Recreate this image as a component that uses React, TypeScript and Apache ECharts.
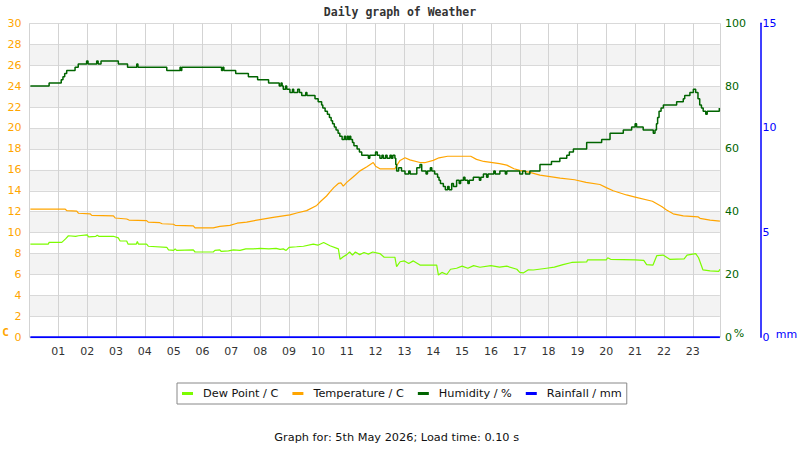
import React, { useEffect, useRef } from 'react';
import * as echarts from 'echarts';

const seriesNames = ['Dew Point / C', 'Temperature / C', 'Humidity / %', 'Rainfall / mm'];
const seriesColors = ['#7CFC00', '#FFA500', '#006400', '#0000FF'];

const titleText = 'Daily graph of Weather';
const footerText = 'Graph for: 5th May 2026; Load time: 0.10 s';

// hour of day, value
const dewPoint: [number, number][] = [
  [0.03, 8.9], [0.65, 8.9], [0.68, 9.07], [1.12, 9.07], [1.25, 9.4], [1.35, 9.7], [1.6, 9.65], [1.7, 9.7],
  [2.0, 9.78], [2.05, 9.6], [2.3, 9.65], [2.35, 9.75], [2.4, 9.65], [2.91, 9.65], [3.08, 9.5], [3.14, 9.2],
  [3.37, 9.2], [3.42, 8.9], [3.7, 8.9], [3.74, 9.15], [3.78, 8.9], [4.06, 8.9], [4.12, 8.7], [4.76, 8.6],
  [4.82, 8.35], [5.0, 8.3], [5.05, 8.45], [5.1, 8.3], [5.68, 8.35], [5.74, 8.15], [6.37, 8.15], [6.43, 8.3],
  [6.6, 8.35], [6.65, 8.2], [6.9, 8.25], [7.07, 8.35], [7.3, 8.3], [7.5, 8.45], [7.76, 8.45], [8.0, 8.5],
  [8.3, 8.45], [8.55, 8.5], [8.69, 8.4], [8.8, 8.45], [8.9, 8.3], [9.0, 8.6], [9.26, 8.65], [9.5, 8.7],
  [9.84, 8.9], [10.0, 8.8], [10.2, 9.05], [10.42, 8.75], [10.71, 8.45], [10.77, 7.45], [10.88, 7.7],
  [11.0, 7.9], [11.1, 8.15], [11.2, 7.85], [11.3, 8.15], [11.45, 7.9], [11.6, 8.1], [11.75, 7.95],
  [11.9, 8.15], [12.15, 8.0], [12.3, 7.65], [12.67, 7.65], [12.73, 6.75], [12.85, 7.22], [13.0, 7.3],
  [13.15, 7.05], [13.31, 7.3], [13.54, 6.9], [14.12, 6.9], [14.18, 5.95], [14.3, 6.2], [14.47, 6.0],
  [14.6, 6.5], [14.81, 6.6], [15.0, 6.8], [15.2, 6.6], [15.4, 6.85], [15.62, 6.69], [16.0, 6.85],
  [16.3, 6.7], [16.55, 6.8], [16.9, 6.5], [17.0, 6.2], [17.12, 6.15], [17.3, 6.45], [17.47, 6.43],
  [17.93, 6.6], [18.2, 6.7], [18.5, 6.95], [18.8, 7.15], [19.32, 7.2], [19.35, 7.39], [20.0, 7.4],
  [20.05, 7.6], [20.15, 7.45], [21.0, 7.4], [21.3, 7.35], [21.4, 6.95], [21.62, 6.9], [21.75, 7.8],
  [21.97, 7.86], [22.2, 7.45], [22.7, 7.5], [22.8, 7.85], [23.1, 8.0], [23.2, 7.6], [23.35, 6.45],
  [23.6, 6.35], [23.9, 6.3], [23.94, 6.5],
];

const temperature: [number, number][] = [
  [0.03, 12.25], [1.23, 12.25], [1.3, 12.1], [1.64, 12.05], [1.7, 11.85], [2.1, 11.8], [2.16, 11.65],
  [2.91, 11.6], [2.97, 11.4], [3.37, 11.3], [3.45, 11.2], [4.06, 11.15], [4.12, 11.0], [4.52, 10.95],
  [4.6, 10.85], [4.99, 10.8], [5.05, 10.7], [5.68, 10.65], [5.74, 10.45], [6.37, 10.45], [6.6, 10.6],
  [6.95, 10.7], [7.2, 10.9], [7.53, 11.0], [7.99, 11.25], [8.45, 11.45], [9.03, 11.7], [9.3, 11.9],
  [9.61, 12.1], [9.96, 12.6], [10.1, 13.0], [10.3, 13.5], [10.42, 13.9], [10.55, 14.3], [10.71, 14.7],
  [10.8, 14.75], [10.88, 14.45], [11.0, 14.8], [11.17, 15.2], [11.3, 15.5], [11.46, 15.9], [11.7, 16.3],
  [11.92, 16.7], [12.0, 16.35], [12.15, 16.1], [12.67, 16.1], [12.73, 16.4], [12.85, 16.9], [13.02, 17.15],
  [13.19, 16.95], [13.54, 16.7], [13.7, 16.68], [14.0, 16.9], [14.2, 17.15], [14.5, 17.3], [15.0, 17.3],
  [15.3, 17.3], [15.5, 17.0], [15.75, 16.8], [16.3, 16.6], [16.55, 16.45], [16.8, 16.1], [17.0, 15.95],
  [17.35, 15.75], [17.7, 15.5], [18.05, 15.35], [18.4, 15.2], [18.9, 15.05], [19.3, 14.8], [19.78, 14.6],
  [20.0, 14.3], [20.24, 14.0], [20.7, 13.6], [21.0, 13.4], [21.6, 13.0], [21.92, 12.5], [22.09, 12.16],
  [22.32, 11.8], [22.67, 11.6], [23.19, 11.5], [23.25, 11.37], [23.6, 11.2], [23.94, 11.1],
];

const humidity: [number, number][] = [
  [0.03, 80], [0.68, 81], [1.1, 82], [1.16, 83], [1.22, 84], [1.29, 85], [1.58, 86], [1.69, 87], [1.98, 88],
  [2.03, 87], [2.33, 88], [2.38, 87], [2.48, 88], [3.08, 87], [3.4, 86], [3.72, 87], [3.76, 86], [4.76, 85],
  [5.22, 86], [5.25, 85], [5.28, 86], [6.66, 85], [6.7, 86], [6.74, 85], [7.15, 84], [7.59, 83], [7.91, 82],
  [8.29, 81], [8.66, 80], [8.72, 81], [8.76, 80], [8.8, 79], [8.88, 80], [8.92, 79], [9.03, 78], [9.12, 79],
  [9.16, 78], [9.3, 79], [9.36, 78], [9.44, 77], [9.58, 78], [9.62, 77], [9.9, 76], [10.01, 75], [10.13, 74],
  [10.17, 73], [10.25, 72], [10.33, 71], [10.4, 70], [10.46, 69], [10.51, 68], [10.57, 67], [10.63, 66],
  [10.7, 65], [10.76, 64], [10.84, 63], [10.92, 64], [10.96, 63], [11.02, 64], [11.06, 63], [11.1, 64],
  [11.14, 63], [11.2, 62], [11.25, 61], [11.36, 60], [11.44, 59], [11.52, 58], [11.75, 57], [11.8, 58],
  [12.0, 59], [12.06, 58], [12.15, 57], [12.22, 58], [12.27, 57], [12.35, 58], [12.4, 57], [12.5, 58],
  [12.55, 57], [12.6, 58], [12.67, 57], [12.7, 55], [12.73, 53], [12.8, 54], [12.9, 53], [13.02, 52],
  [13.15, 53], [13.2, 52], [13.43, 54], [13.54, 55], [13.6, 53], [13.75, 52], [13.8, 53], [13.9, 54],
  [13.95, 53], [14.05, 52], [14.15, 51], [14.2, 50], [14.25, 49], [14.35, 48], [14.42, 47], [14.5, 48],
  [14.55, 47], [14.64, 49], [14.7, 48], [14.81, 50], [14.9, 49], [14.95, 50], [15.05, 51], [15.1, 50],
  [15.2, 49], [15.25, 50], [15.39, 51], [15.6, 50], [15.65, 51], [15.74, 52], [15.85, 51], [15.9, 52],
  [16.1, 53], [16.15, 52], [16.31, 53], [16.5, 52], [16.55, 53], [17.0, 52], [17.1, 53], [17.2, 52],
  [17.35, 53], [17.7, 55], [18.1, 56], [18.39, 57], [18.63, 58], [18.72, 59], [18.86, 60], [19.32, 62],
  [19.84, 63], [20.13, 65], [20.59, 66], [20.88, 67], [21.0, 68], [21.05, 67], [21.28, 66], [21.63, 65],
  [21.69, 66], [21.74, 68], [21.78, 70], [21.83, 72], [21.9, 73], [21.98, 74], [22.44, 75], [22.67, 76],
  [22.72, 77], [22.9, 78], [23.02, 79], [23.1, 78], [23.18, 76], [23.24, 74], [23.3, 73], [23.36, 72],
  [23.45, 71], [23.5, 72], [23.92, 73], [23.94, 73],
];

const rainfall: [number, number][] = [
  [0.03, 0], [23.94, 0],
];

const pad2 = (v: number) => (v < 10 ? '0' + v : String(v));

export default function App() {
  const ref = useRef<HTMLDivElement>(null);

  useEffect(() => {
    document.body.style.margin = '0';
    const chart = echarts.init(ref.current as HTMLDivElement, null, { renderer: 'svg' });
    const font = 'DejaVu Sans';
    chart.setOption({
      animation: false,
      backgroundColor: '#ffffff',
      textStyle: { fontFamily: font },
      title: {
        text: titleText,
        left: 'center',
        top: 6,
        padding: 0,
        textStyle: { fontFamily: 'DejaVu Sans Mono', fontWeight: 'bold', fontSize: 11.5, color: '#333333' },
      },
      grid: { left: 29.5, right: 80.1, top: 23.3, bottom: 112.7, containLabel: false },
      legend: {
        data: seriesNames,
        left: 177,
        top: 383,
        padding: [5, 5, 5, 5],
        borderColor: '#888888',
        borderWidth: 1,
        itemWidth: 11,
        itemHeight: 3,
        itemGap: 14,
        icon: 'rect',
        textStyle: { fontSize: 11.3, color: '#111111', fontFamily: font, padding: [0, 0, 0, 5] },
      },
      xAxis: {
        type: 'value',
        min: 0,
        max: 23.94,
        interval: 1,
        axisLine: { show: false },
        axisTick: { show: false },
        splitLine: { show: true, lineStyle: { color: '#d3d3d3', width: 1 } },
        axisLabel: {
          color: '#333333',
          fontSize: 11,
          fontFamily: font,
          margin: 9,
          formatter: (v: number) => (Number.isInteger(v) && v >= 1 && v <= 23 ? pad2(v) : ''),
        },
      },
      yAxis: [
        {
          type: 'value',
          min: 0,
          max: 30,
          interval: 2,
          position: 'left',
          axisLine: { show: false },
          axisTick: { show: false },
          axisLabel: { color: '#FFA500', fontSize: 11, fontFamily: font, margin: 8 },
          splitLine: { show: true, lineStyle: { color: '#d9d9d9', width: 1 } },
          splitArea: { show: true, areaStyle: { color: ['#ffffff', '#f3f3f3'] } },
        },
        {
          type: 'value',
          min: 0,
          max: 100,
          interval: 20,
          position: 'right',
          axisLine: { show: false },
          axisTick: { show: false },
          splitLine: { show: false },
          axisLabel: { color: '#006400', fontSize: 11, fontFamily: font, margin: 5 },
        },
        {
          type: 'value',
          min: 0,
          max: 15,
          interval: 5,
          position: 'right',
          offset: 40.5,
          axisLine: { show: true, lineStyle: { color: '#0000FF', width: 1.5 } },
          axisTick: { show: false },
          splitLine: { show: false },
          axisLabel: { color: '#0000FF', fontSize: 11, fontFamily: font, margin: 2 },
        },
      ],
      series: [
        {
          name: seriesNames[0],
          type: 'line',
          yAxisIndex: 0,
          data: dewPoint,
          symbol: 'none',
          lineStyle: { color: seriesColors[0], width: 1.2 },
          itemStyle: { color: seriesColors[0] },
        },
        {
          name: seriesNames[1],
          type: 'line',
          yAxisIndex: 0,
          data: temperature,
          symbol: 'none',
          lineStyle: { color: seriesColors[1], width: 1.2 },
          itemStyle: { color: seriesColors[1] },
        },
        {
          name: seriesNames[2],
          type: 'line',
          yAxisIndex: 1,
          data: humidity,
          step: 'end',
          symbol: 'none',
          lineStyle: { color: seriesColors[2], width: 1.5 },
          itemStyle: { color: seriesColors[2] },
        },
        {
          name: seriesNames[3],
          type: 'line',
          yAxisIndex: 2,
          data: rainfall,
          symbol: 'none',
          lineStyle: { color: seriesColors[3], width: 2 },
          itemStyle: { color: seriesColors[3] },
        },
      ],
      graphic: [
        {
          type: 'text',
          x: 5.5,
          y: 332.5,
          style: {
            text: 'C',
            fill: '#FFA500',
            font: 'bold 11px "DejaVu Sans Mono"',
            align: 'center',
            verticalAlign: 'middle',
          },
        },
        {
          type: 'text',
          x: 739,
          y: 333,
          style: {
            text: '%',
            fill: '#006400',
            font: '11px "DejaVu Sans"',
            align: 'center',
            verticalAlign: 'middle',
          },
        },
        {
          type: 'text',
          x: 786.5,
          y: 334.5,
          style: {
            text: 'mm',
            fill: '#0000FF',
            font: '11px "DejaVu Sans"',
            align: 'center',
            verticalAlign: 'middle',
          },
        },
        {
          type: 'text',
          x: 396.7,
          y: 437.3,
          style: {
            text: footerText,
            fill: '#111111',
            font: '11.3px "DejaVu Sans"',
            align: 'center',
            verticalAlign: 'middle',
          },
        },
      ],
    });
    return () => chart.dispose();
  }, []);

  return <div ref={ref} style={{ width: 800, height: 450 }} />;
}
